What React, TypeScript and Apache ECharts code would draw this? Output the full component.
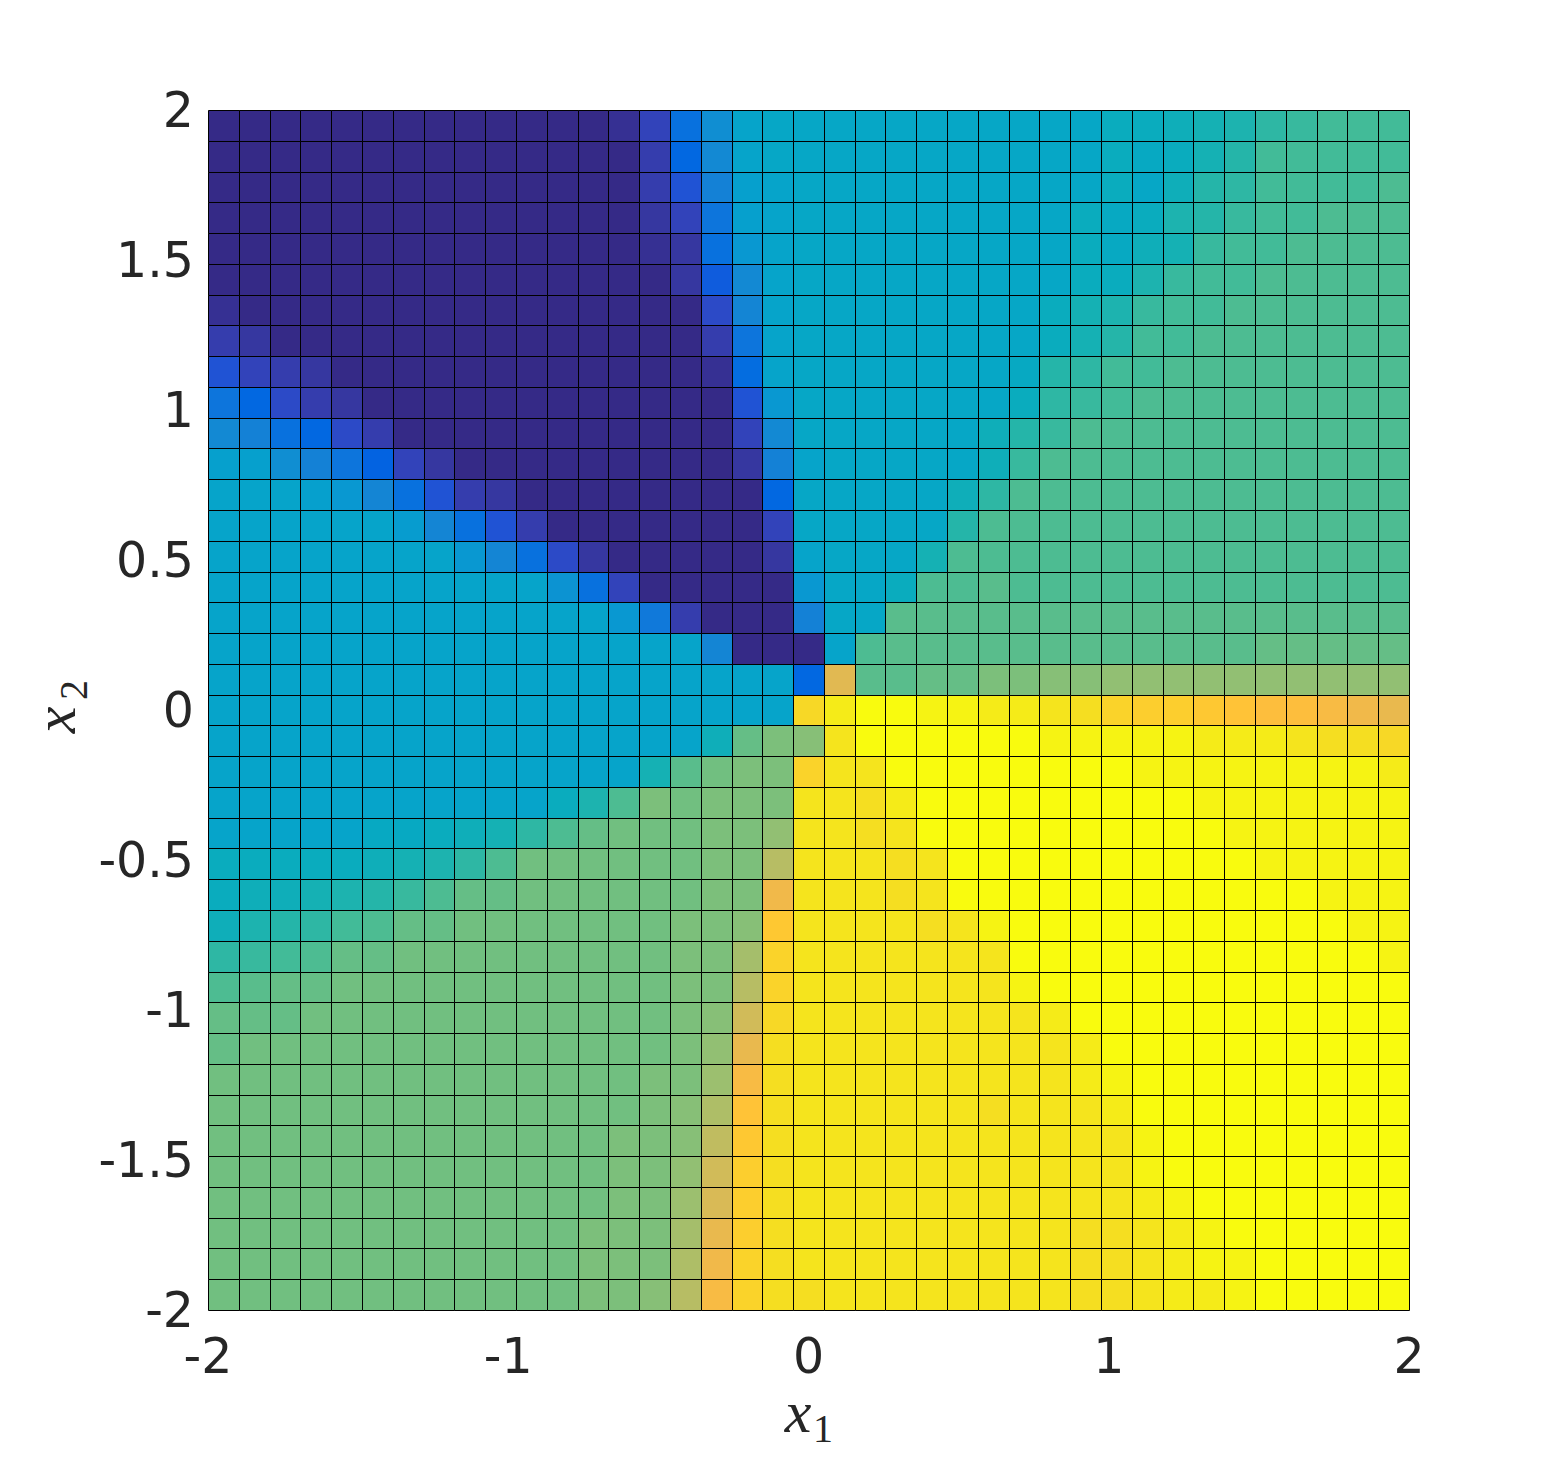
import React, { useEffect, useRef } from "react";
import * as echarts from "echarts";

// MATLAB parula colormap (64 entries)
const PARULA = [
  "#352a87", "#363093", "#3637a0", "#353dad", "#3243ba", "#2c4ac7", "#2053d4", "#0f5cdd",
  "#0363e1", "#0268e1", "#046de0", "#0871de", "#0d75dc", "#1079da", "#127dd8", "#1481d6",
  "#1485d4", "#1389d3", "#108ed2", "#0c93d2", "#0998d1", "#079ccf", "#06a0cd", "#06a4ca",
  "#06a7c6", "#07a9c2", "#0aacbe", "#0faeb9", "#15b1b4", "#1db3af", "#25b5a9", "#2eb7a4",
  "#38b99e", "#42bb98", "#4dbc92", "#59bd8c", "#65be86", "#71bf80", "#7cbf7b", "#87bf77",
  "#92bf73", "#9cbf6f", "#a5be6b", "#aebe67", "#b7bd64", "#c0bc60", "#c8bc5d", "#d1bb59",
  "#d9ba56", "#e1b952", "#e9b94e", "#f1b94a", "#f8bb44", "#fdbe3d", "#ffc337", "#fec832",
  "#fcce2e", "#fad32a", "#f7d826", "#f5de21", "#f5e41d", "#f5eb18", "#f6f313", "#f9fb0e",
];

// grid: 40 points from -2 to 2 in each direction -> 39 x 39 cells
const X_MIN = -2;
const X_MAX = 2;
const N_CELLS = 39;
const X_TICK_STEP = 1;
const Y_TICK_STEP = 0.5;

// colour index (0..63) of each cell, row 0 = top (x2 = 2), column 0 = left (x1 = -2)
const CELL_LEVELS: number[][] = [
  [0,0,0,0,0,0,0,0,0,0, 0,0,0,1,4,11,18,23,24,24, 24,24,24,24,24,24,24,24,24, 26,26,27,28,29,31,32,33,33,33],
  [0,0,0,0,0,0,0,0,0,0, 0,0,0,0,3,9,17,23,24,24, 24,24,24,24,24,24,24,24,24, 26,25,26,28,30,33,33,33,33,33],
  [0,0,0,0,0,0,0,0,0,0, 0,0,0,0,3,6,15,22,23,24, 24,24,24,24,24,24,24,24,24, 26,24,27,30,31,33,33,33,33,34],
  [0,0,0,0,0,0,0,0,0,0, 0,0,0,0,2,4,12,22,23,24, 24,24,24,24,24,24,24,24,26, 25,26,29,30,32,33,33,34,34,34],
  [0,0,0,0,0,0,0,0,0,0, 0,0,0,0,1,2,11,20,23,24, 24,24,24,24,24,24,24,24,26, 25,27,28,32,33,33,34,34,34,34],
  [0,0,0,0,0,0,0,0,0,0, 0,0,0,0,0,2,7,17,23,24, 24,24,24,24,24,24,24,24,26, 26,29,32,33,33,34,34,34,34,34],
  [1,0,0,0,0,0,0,0,0,0, 0,0,0,0,0,0,5,16,23,24, 24,24,24,24,24,24,24,26,28, 29,32,33,33,34,34,34,34,34,34],
  [3,2,0,0,0,0,0,0,0,0, 0,0,0,0,0,0,3,12,23,24, 24,24,24,24,24,24,24,26,28, 30,33,33,34,34,34,34,34,34,34],
  [6,4,3,2,0,0,0,0,0,0, 0,0,0,0,0,0,1,10,23,24, 24,24,24,24,24,24,25,30,31, 33,33,34,34,34,34,34,34,34,34],
  [12,9,5,3,2,0,0,0,0,0, 0,0,0,0,0,0,0,6,20,24, 24,24,24,24,24,24,26,31,32, 33,34,34,34,34,34,34,34,34,34],
  [17,15,11,9,5,3,0,0,0,0, 0,0,0,0,0,0,0,4,17,24, 24,24,24,24,24,27,30,32,34, 34,34,34,34,34,34,34,34,34,34],
  [22,22,18,15,12,8,4,2,0,0, 0,0,0,0,0,0,0,2,15,23, 24,24,24,24,24,27,32,34,34, 34,34,34,34,34,34,34,34,34,34],
  [23,23,23,22,20,16,11,6,3,2, 0,0,0,0,0,0,0,0,9,24, 24,24,24,24,27,31,34,34,34, 34,34,34,34,34,34,34,34,34,34],
  [23,23,23,23,23,23,21,16,11,6, 3,0,0,0,0,0,0,0,4,24, 24,24,24,24,30,34,34,34,34, 34,34,34,34,34,34,34,34,34,34],
  [23,23,23,23,23,23,23,23,20,16, 11,5,2,0,0,0,0,0,2,23, 24,24,24,28,34,34,34,34,34, 34,34,34,34,34,34,34,34,34,34],
  [23,23,23,23,23,23,23,23,23,23, 23,19,11,4,0,0,0,0,0,20, 24,24,26,34,34,35,34,34,34, 34,34,34,34,34,34,34,34,34,34],
  [23,23,23,23,23,23,23,23,23,23, 23,23,23,20,13,3,0,0,0,15, 24,24,35,35,35,35,35,35,35, 35,35,35,35,35,35,35,35,35,35],
  [23,23,23,23,23,23,23,23,23,23, 23,23,23,23,23,23,16,0,0,0, 23,34,35,35,35,35,35,35,35, 35,35,35,35,35,36,36,36,36,36],
  [23,23,23,23,23,23,23,23,23,23, 23,23,23,23,23,23,23,23,23,9, 49,35,35,36,36,38,38,39,39, 40,40,40,40,40,40,40,40,40,40],
  [23,23,23,23,23,23,23,23,23,23, 23,23,23,23,23,23,23,23,23,58, 61,63,63,62,62,61,61,60,59, 57,56,56,55,54,53,53,52,51,50],
  [23,23,23,23,23,23,23,23,23,23, 23,23,23,23,23,23,27,36,38,39, 60,63,63,63,63,63,63,62,62, 62,62,62,61,61,61,60,59,59,58],
  [23,23,23,23,23,23,23,23,23,23, 23,23,23,23,28,35,37,38,38,57, 60,60,63,63,63,63,63,63,63, 63,62,62,62,62,62,62,62,62,61],
  [23,23,23,23,23,23,23,23,23,23, 23,26,29,34,38,37,38,38,38,60, 60,59,61,63,63,63,63,63,63, 63,63,63,62,62,62,62,62,62,62],
  [23,23,23,23,23,25,25,26,27,28, 31,34,36,37,37,37,38,38,40,60, 60,59,60,63,63,63,63,63,63, 63,63,63,63,62,62,62,62,62,62],
  [26,26,26,26,26,27,28,29,31,34, 37,37,37,37,37,37,38,38,44,60, 60,60,59,60,63,63,63,63,63, 63,63,63,63,63,62,62,62,62,62],
  [26,27,27,28,29,30,32,34,36,36, 37,37,37,37,37,37,38,38,51,60, 60,60,59,60,63,63,63,63,63, 63,63,63,63,63,63,63,62,62,62],
  [27,29,30,31,33,34,36,36,37,37, 37,37,37,37,37,38,38,39,55,60, 60,60,60,59,60,62,63,63,63, 63,63,63,63,63,63,63,63,62,62],
  [31,32,33,34,36,36,37,37,37,37, 37,37,37,37,37,38,38,42,57,60, 60,60,60,60,60,60,63,63,63, 63,63,63,63,63,63,63,63,63,62],
  [34,35,36,36,37,37,37,37,37,37, 37,37,37,37,37,38,38,44,57,60, 60,60,60,60,60,60,62,63,63, 63,63,63,63,63,63,63,63,63,63],
  [36,36,36,37,37,37,37,37,37,37, 37,37,37,37,37,38,39,47,58,60, 60,60,60,60,60,60,60,61,63, 63,63,63,63,63,63,63,63,63,63],
  [36,37,37,37,37,37,37,37,37,37, 37,37,37,37,37,38,40,50,59,60, 60,60,60,60,60,60,60,60,61, 63,63,63,63,63,63,63,63,63,63],
  [37,37,37,37,37,37,37,37,37,37, 37,37,37,37,38,38,41,52,59,60, 60,60,60,60,60,60,60,60,61, 62,63,63,63,63,63,63,63,63,63],
  [37,37,37,37,37,37,37,37,37,37, 37,37,37,37,38,39,43,54,59,60, 60,60,60,60,60,59,60,60,60, 61,63,63,63,63,63,63,63,63,63],
  [37,37,37,37,37,37,37,37,37,37, 37,37,37,38,38,39,45,55,59,60, 60,60,60,60,60,60,60,60,60, 60,62,63,63,63,63,63,63,63,63],
  [37,37,37,37,37,37,37,37,37,37, 37,37,37,38,38,40,47,56,59,60, 60,60,60,60,60,60,60,60,60, 60,62,63,63,63,63,63,63,63,63],
  [37,37,37,37,37,37,37,37,37,37, 37,37,37,38,38,41,48,56,59,60, 60,60,60,60,60,60,60,60,60, 60,61,62,63,63,63,63,63,63,63],
  [37,37,37,37,37,37,37,37,37,37, 37,37,38,38,38,42,50,56,59,60, 60,60,60,60,60,60,60,60,59, 59,60,61,62,63,63,63,63,63,63],
  [37,37,37,37,37,37,37,37,37,37, 37,37,38,38,38,43,51,57,59,60, 60,60,60,60,60,60,60,60,59, 59,60,61,62,62,63,63,63,63,63],
  [37,37,37,37,37,37,37,37,37,37, 37,37,38,38,39,44,52,57,59,59, 60,60,60,60,60,60,60,60,59, 59,60,61,61,62,63,63,63,63,63],
];

const TICK_COLOR = "#262626";
const TICK_FONT = "DejaVu Sans";
const TITLE_FONT = "Liberation Serif";

export default function App() {
  const ref = useRef<HTMLDivElement>(null);

  useEffect(() => {
    if (!ref.current) return;
    const chart = echarts.init(ref.current, undefined, { renderer: "svg" });
    const step = (X_MAX - X_MIN) / N_CELLS;
    const data: number[][] = [];
    CELL_LEVELS.forEach((row, r) => {
      row.forEach((v, c) => {
        const cx = X_MIN + (c + 0.5) * step;
        const cy = X_MAX - (r + 0.5) * step;
        data.push([cx, cy, v]);
      });
    });

    const option: any = {
      animation: false,
      backgroundColor: "#ffffff",
      grid: { left: 208, top: 110, width: 1201, height: 1200, containLabel: false },
      xAxis: {
        type: "value",
        min: X_MIN,
        max: X_MAX,
        interval: X_TICK_STEP,
        axisLine: { show: false },
        axisTick: { show: false },
        splitLine: { show: false },
        axisLabel: {
          color: TICK_COLOR,
          fontFamily: TICK_FONT,
          fontSize: 49,
          margin: 22,
        },
      },
      yAxis: {
        type: "value",
        min: X_MIN,
        max: X_MAX,
        interval: Y_TICK_STEP,
        axisLine: { show: false },
        axisTick: { show: false },
        splitLine: { show: false },
        axisLabel: {
          color: TICK_COLOR,
          fontFamily: TICK_FONT,
          fontSize: 49,
          margin: 14,
        },
      },
      visualMap: {
        show: false,
        type: "continuous",
        dimension: 2,
        min: 0,
        max: PARULA.length - 1,
        seriesIndex: 0,
        inRange: { color: PARULA },
      },
      series: [
        {
          type: "custom",
          encode: { x: 0, y: 1 },
          data,
          renderItem: (params: any, api: any) => {
            const cx = api.value(0);
            const cy = api.value(1);
            const a = api.coord([cx - step / 2, cy + step / 2]);
            const b = api.coord([cx + step / 2, cy - step / 2]);
            const x0 = Math.round(a[0]) + 0.5;
            const y0 = Math.round(a[1]) + 0.5;
            const x1 = Math.round(b[0]) + 0.5;
            const y1 = Math.round(b[1]) + 0.5;
            return {
              type: "rect",
              shape: { x: x0, y: y0, width: x1 - x0, height: y1 - y0 },
              style: { fill: api.visual("color"), stroke: "#000000", lineWidth: 1 },
            };
          },
        },
      ],
      graphic: [
        {
          type: "text",
          x: 798,
          y: 1412,
          style: {
            text: "x",
            fontFamily: TITLE_FONT,
            fontStyle: "italic",
            fontSize: 60,
            fill: TICK_COLOR,
            textAlign: "center",
            textVerticalAlign: "middle",
          },
        },
        {
          type: "text",
          x: 823,
          y: 1428,
          style: {
            text: "1",
            fontFamily: TITLE_FONT,
            fontSize: 40,
            fill: TICK_COLOR,
            textAlign: "center",
            textVerticalAlign: "middle",
          },
        },
        {
          type: "text",
          x: 55,
          y: 720,
          rotation: Math.PI / 2,
          style: {
            text: "x",
            fontFamily: TITLE_FONT,
            fontStyle: "italic",
            fontSize: 60,
            fill: TICK_COLOR,
            textAlign: "center",
            textVerticalAlign: "middle",
          },
        },
        {
          type: "text",
          x: 73,
          y: 690,
          rotation: Math.PI / 2,
          style: {
            text: "2",
            fontFamily: TITLE_FONT,
            fontSize: 40,
            fill: TICK_COLOR,
            textAlign: "center",
            textVerticalAlign: "middle",
          },
        },
      ],
    };

    chart.setOption(option);
    return () => chart.dispose();
  }, []);

  return (
    <div
      ref={ref}
      style={{ position: "absolute", left: 0, top: 0, width: 1563, height: 1472, background: "#fff" }}
    />
  );
}
